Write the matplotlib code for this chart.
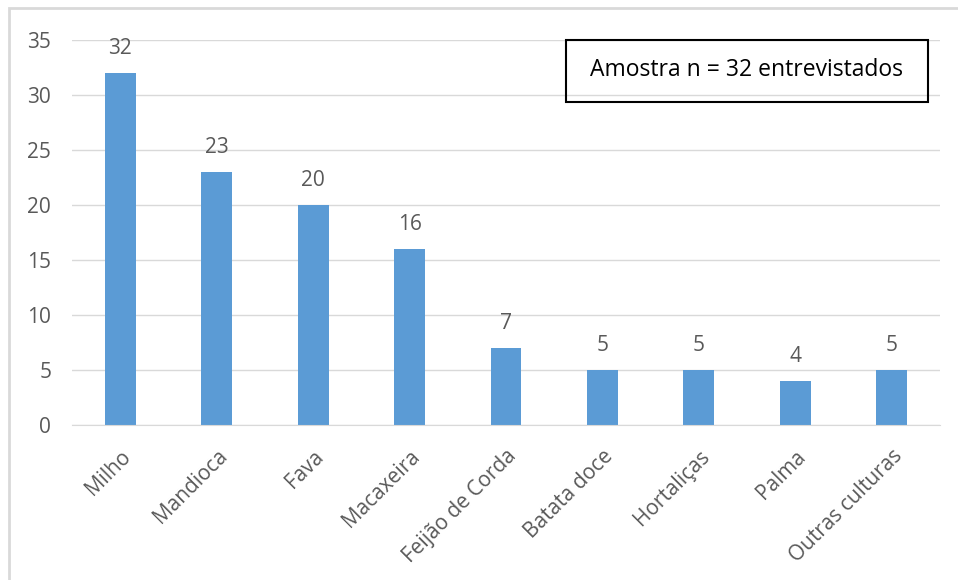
import matplotlib.pyplot as plt
from matplotlib.patches import Rectangle

culturas = ["Milho", "Mandioca", "Fava", "Macaxeira", "Feijão de Corda",
            "Batata doce", "Hortaliças", "Palma", "Outras culturas"]
valores = [32, 23, 20, 16, 7, 5, 5, 4, 5]
yticks = [0, 5, 10, 15, 20, 25, 30, 35]

plt.rcParams['font.family'] = ['Open Sans', 'DejaVu Sans']
cinza = '#595959'

fig = plt.figure(figsize=(9.58, 5.8), dpi=100)
ax = fig.add_axes([72/958, 1 - 425/580, 868/958, 385/580])

x = range(len(culturas))
ax.bar(x, valores, width=0.32, color='#5B9BD5', zorder=2)
for i, v in zip(x, valores):
    ax.annotate(str(v), (i, v), xytext=(0, 10), textcoords='offset points',
                ha='center', va='bottom', fontsize=15, color=cinza)

ax.set_xlim(-0.5, len(culturas) - 0.5)
ax.set_ylim(0, 35)
ax.set_yticks(yticks)
ax.grid(axis='y', color='#D9D9D9', linewidth=1, zorder=0)
for s in ['top', 'right', 'left']:
    ax.spines[s].set_visible(False)
ax.spines['bottom'].set_color('#D9D9D9')
ax.tick_params(axis='both', length=0, labelsize=15, colors=cinza)
ax.tick_params(axis='y', pad=15)
ax.tick_params(axis='x', pad=15)
ax.set_xticks(list(x))
ax.set_xticklabels(culturas, rotation=45, ha='right', rotation_mode='anchor')

# caixa de texto
fig.text((566 + 928) / 2 / 958, 1 - 70/580, "Amostra n = 32 entrevistados",
         ha='center', va='center', fontsize=16.5, color='black')
fig.patches.append(Rectangle((566/958, 1 - 102/580), 362/958, 62/580,
                             transform=fig.transFigure, fill=False,
                             ec='black', lw=1.5))

# moldura do gráfico
fig.patches.append(Rectangle((9/958, -0.05), 1.0, 1 - 8/580 + 0.05,
                             transform=fig.transFigure, fill=False,
                             ec='#D9D9D9', lw=2))

fig.savefig('out.png', dpi=100)
